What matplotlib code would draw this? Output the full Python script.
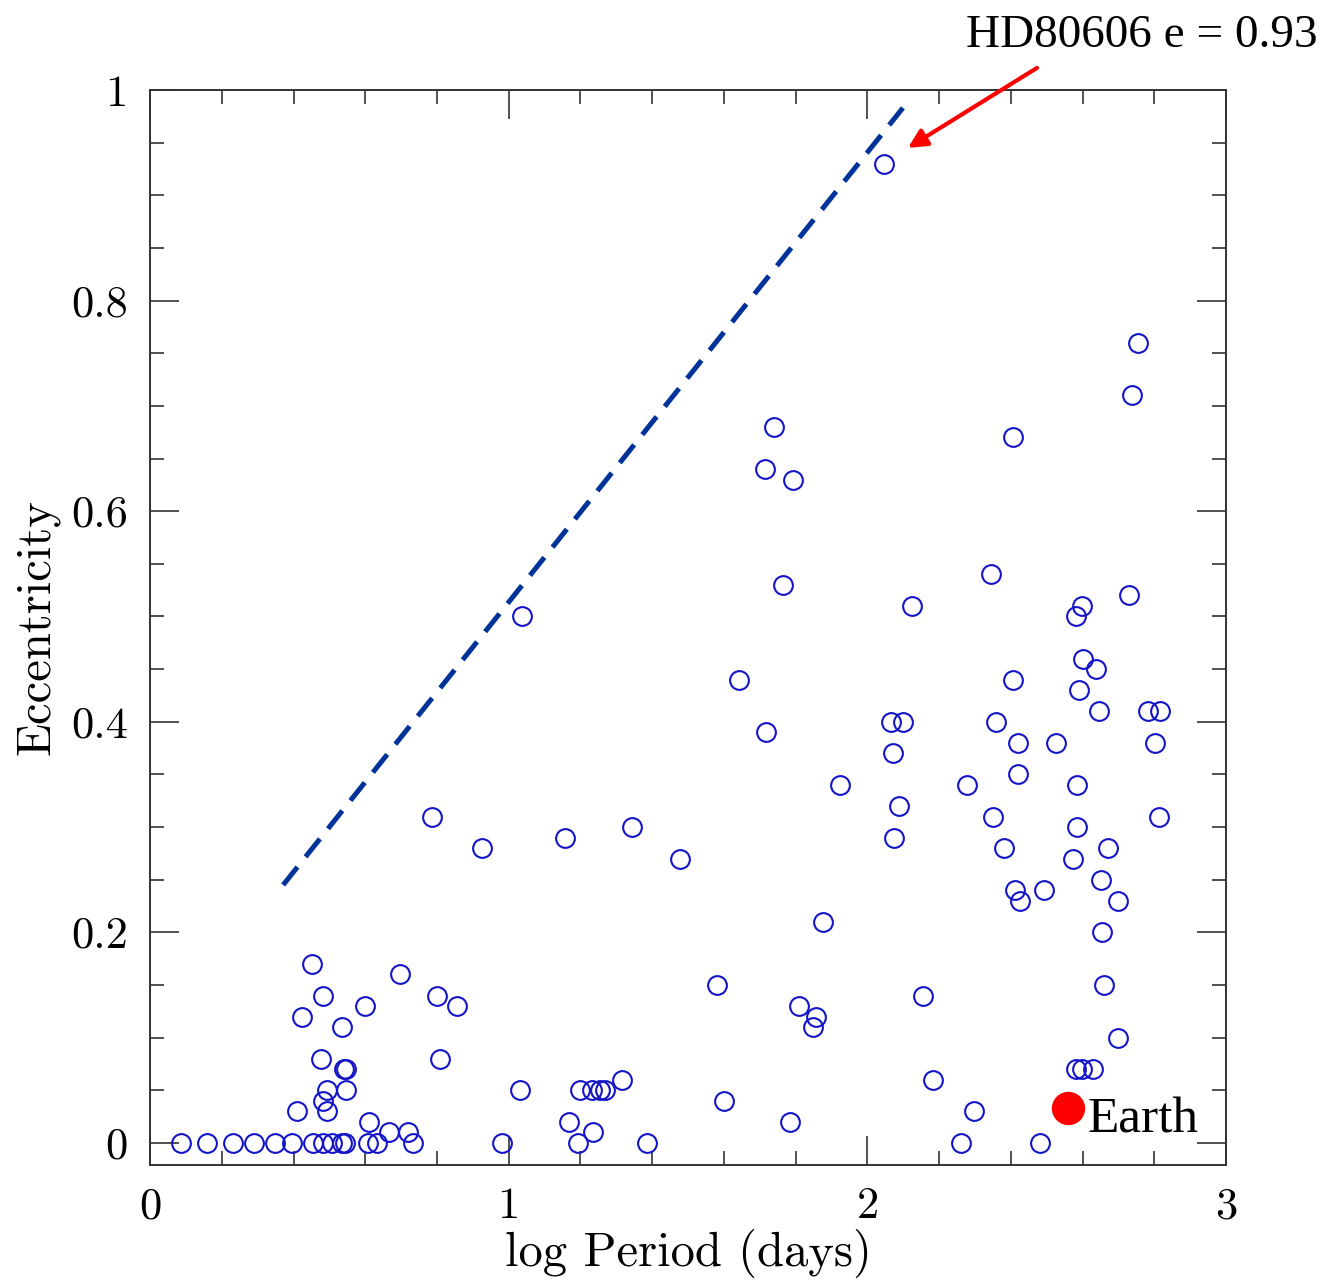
import matplotlib
matplotlib.use("Agg")
import matplotlib.pyplot as plt
from matplotlib.ticker import MultipleLocator

plt.rcParams['axes.formatter.use_mathtext'] = True

# planets: log period (days) and eccentricity
log_period = [
    # e = 0
    0.086, 0.158, 0.231, 0.291, 0.349, 0.395, 0.455, 0.483, 0.507, 0.534,
    0.544, 0.609, 0.632, 0.732, 0.98, 1.194, 1.386, 2.26, 2.481,
    # low e, short period
    0.451, 0.697, 0.483, 0.799, 0.855, 0.599, 0.423, 0.534, 0.476, 0.808,
    0.546, 0.54, 1.031, 0.493, 0.546, 0.483, 0.409, 0.493, 0.611, 0.667, 0.72,
    # low e, longer period
    1.58, 1.81, 1.857, 1.847, 2.156, 2.184, 1.199, 1.231, 1.255, 1.268,
    1.317, 1.601, 1.169, 1.234, 1.784, 2.66, 2.70, 2.583, 2.597, 2.63, 2.297,
    # higher e
    2.046, 2.754, 2.738, 2.406, 1.740, 1.714, 1.793, 1.765, 2.345, 2.124,
    2.729, 2.598, 2.582, 1.037, 1.642, 2.406, 2.601, 2.637, 2.590, 2.646,
    2.782, 2.816, 1.717, 2.066, 2.099, 2.359, 2.071, 2.420, 2.526, 2.802,
    2.420, 1.924, 2.278, 2.584, 2.088, 2.350, 2.813, 0.786, 1.344, 2.584,
    2.074, 1.157, 2.381, 0.926, 2.671, 1.478, 2.573, 2.650, 2.412, 2.492,
    2.425, 2.699, 1.876, 2.654,
]
ecc = [
    0, 0, 0, 0, 0, 0, 0, 0, 0, 0,
    0, 0, 0, 0, 0, 0, 0, 0, 0,
    0.17, 0.16, 0.14, 0.14, 0.13, 0.13, 0.12, 0.11, 0.08, 0.08,
    0.07, 0.07, 0.05, 0.05, 0.05, 0.04, 0.03, 0.03, 0.02, 0.01, 0.01,
    0.15, 0.13, 0.12, 0.11, 0.14, 0.06, 0.05, 0.05, 0.05, 0.05,
    0.06, 0.04, 0.02, 0.01, 0.02, 0.15, 0.10, 0.07, 0.07, 0.07, 0.03,
    0.93, 0.76, 0.71, 0.67, 0.68, 0.64, 0.63, 0.53, 0.54, 0.51,
    0.52, 0.51, 0.50, 0.50, 0.44, 0.44, 0.46, 0.45, 0.43, 0.41,
    0.41, 0.41, 0.39, 0.40, 0.40, 0.40, 0.37, 0.38, 0.38, 0.38,
    0.35, 0.34, 0.34, 0.34, 0.32, 0.31, 0.31, 0.31, 0.30, 0.30,
    0.29, 0.29, 0.28, 0.28, 0.28, 0.27, 0.27, 0.25, 0.24, 0.24,
    0.23, 0.23, 0.21, 0.20,
]

earth_logp, earth_e = 2.56, 0.033
# dashed upper envelope
env_x = [0.371, 2.099]
env_y = [0.245, 0.983]
# HD80606 arrow (tail, head)
arrow_tail = (2.473, 1.021)
arrow_head = (2.113, 0.945)

fig = plt.figure(figsize=(13.35, 12.8), dpi=100)
ax = fig.add_axes([0.1124, 0.0898, 0.806, 0.8399])

ax.plot(env_x, env_y, color='#003399', lw=3.6, dashes=(4.6, 2.6), zorder=2)
ax.plot(log_period, ecc, 'o', ms=13.5, mfc='none', mec='#1414c8', mew=1.5, zorder=3)
ax.plot(earth_logp, earth_e, 'o', ms=23, color='red', zorder=4)
ax.text(2.615, 0.0095, 'Earth', family='Liberation Serif', fontsize=37,
        va='baseline', ha='left')

ax.annotate('', xy=arrow_head, xytext=arrow_tail, annotation_clip=False,
            arrowprops=dict(arrowstyle='-|>', color='red', lw=3, mutation_scale=28,
                            shrinkA=0, shrinkB=0))
fig.text(0.9873, 0.9633, 'HD80606 e = 0.93', family='Liberation Serif',
         fontsize=34, ha='right', va='baseline')

ax.set_xlim(0, 3)
ax.set_ylim(-0.021, 1.0)
ax.xaxis.set_minor_locator(MultipleLocator(0.2))
ax.yaxis.set_minor_locator(MultipleLocator(0.05))
ax.set_xticks([0, 1, 2, 3])
ax.set_xticklabels(['0', '1', '2', '3'])
ax.set_yticks([0, 0.2, 0.4, 0.6, 0.8, 1.0])
ax.set_yticklabels(['0', '0.2', '0.4', '0.6', '0.8', '1'])

ax.tick_params(which='both', direction='in', top=True, right=True,
               width=1.1, color='#222222')
ax.tick_params(which='major', length=21, pad=16, labelsize=32)
ax.tick_params(which='minor', length=10)
for lab in ax.get_xticklabels() + ax.get_yticklabels():
    lab.set_family('cmr10')
for s in ax.spines.values():
    s.set_linewidth(1.4)
    s.set_color('#333333')

ax.set_xlabel('log Period (days)', family='cmr10', fontsize=35, labelpad=1)
ax.set_ylabel('Eccentricity', family='cmr10', fontsize=35, labelpad=8)

fig.savefig('out.png', dpi=100)
